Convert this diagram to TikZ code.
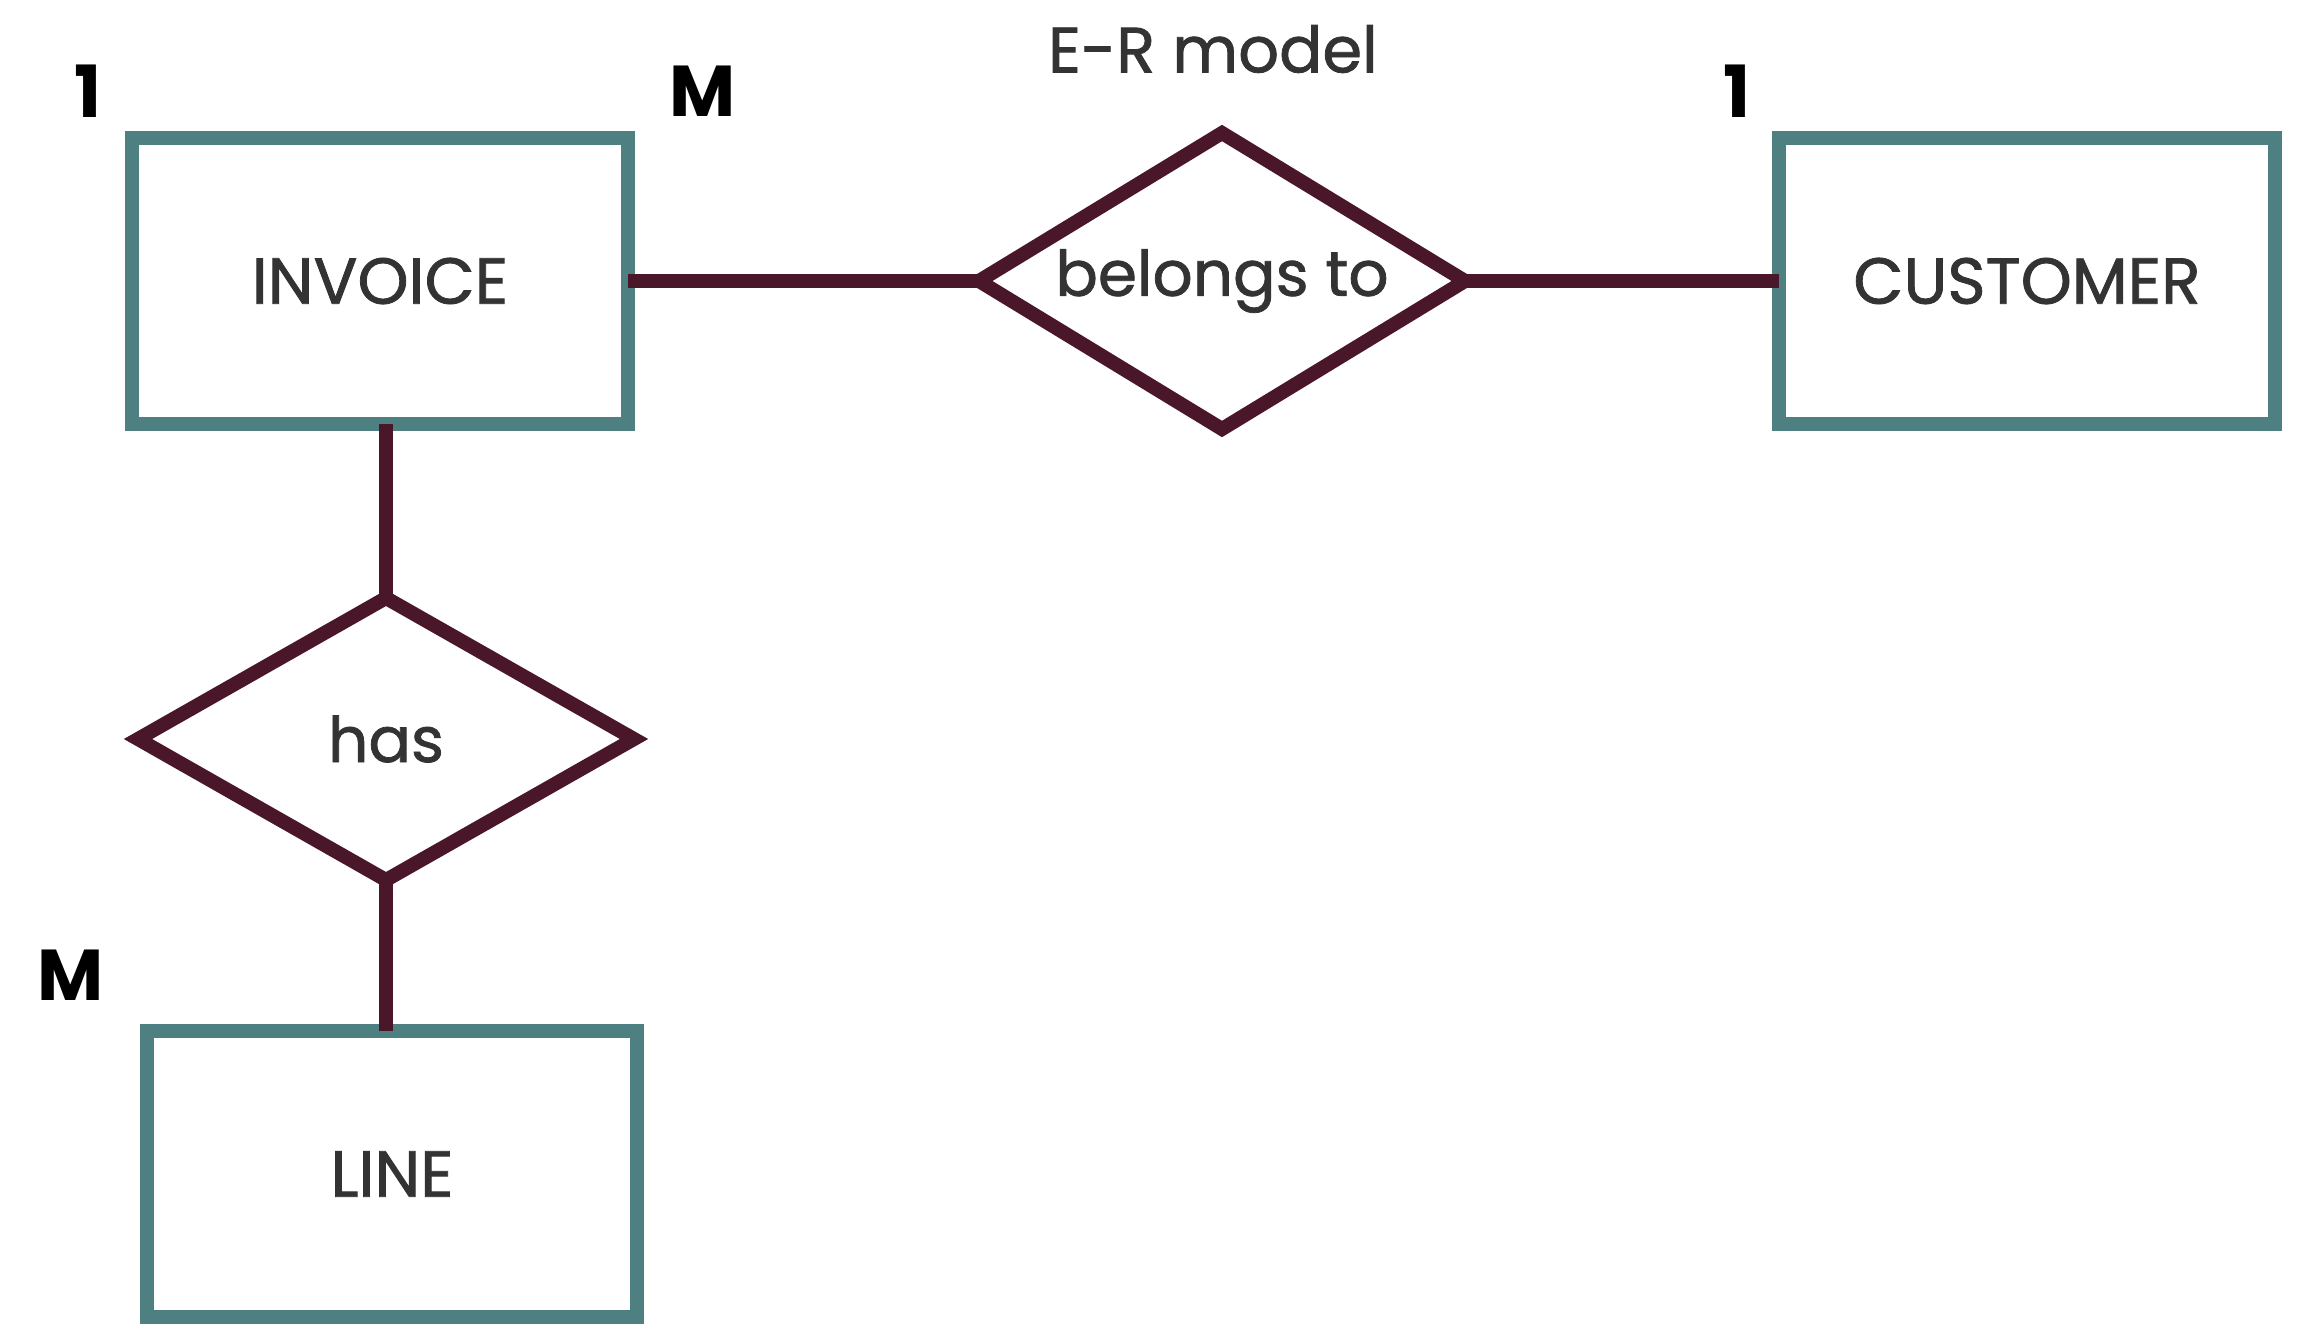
\documentclass[tikz,border=0pt]{standalone}
\usepackage{fontspec}
\setmainfont{Poppins}
\newfontfamily\erfont{Poppins}[FakeBold=1.2]
\usetikzlibrary{shapes.geometric}
\definecolor{boxteal}{HTML}{4F8081}
\definecolor{relmaroon}{HTML}{4A1629}
\definecolor{labelgray}{HTML}{333333}
\begin{document}
\begin{tikzpicture}[x=1pt,y=-1pt,
  entity/.style={draw=boxteal, line width=14pt, fill=white, minimum width=496pt,
    minimum height=286pt, inner sep=0pt, outer sep=0pt,
    font=\erfont\fontsize{65}{70}\selectfont, text=labelgray},
  relation/.style={diamond, draw=relmaroon, line width=14pt, fill=white,
    minimum width=486pt, minimum height=296pt, inner sep=0pt, outer sep=0pt},
  reltext/.style={font=\erfont\fontsize{63}{70}\selectfont, text=labelgray, inner sep=0pt},
  link/.style={draw=relmaroon, line width=14pt},
  card/.style={font=\bfseries\fontsize{72}{76}\selectfont, text=black, inner sep=0pt},
  caption/.style={font=\erfont\fontsize{64}{70}\selectfont, text=labelgray, inner sep=0pt}]
  \useasboundingbox (0,0) rectangle (2305,1340);

  % entities
  \node[entity] (invoice) at (380,281) {INVOICE};
  \node[entity] (customer) at (2027,281) {CUSTOMER};
  \node[entity, minimum width=490pt] (line) at (392,1174) {LINE};

  % relationships: the diamond outline and its text
  \node[relation] (belongs) at (1222,281) {};
  \node[reltext] (belongstext) at (belongs) {belongs to};
  \node[relation, minimum width=496pt, minimum height=282pt] (has) at (386,739) {};
  \node[reltext] (hastext) at (has) {has};

  % connectors
  \draw[link] (invoice.east) -- (belongs.west);
  \draw[link] (belongs.east) -- (customer.west);
  \draw[link] (has.north) -- (has.north |- invoice.south);
  \draw[link] (has.south) -- (has.south |- line.north);

  % cardinalities and title
  \node[card] (c1) at (88,91) {1};
  \node[card] (c2) at (703,91) {M};
  \node[card] (c3) at (1737,91) {1};
  \node[card] (c4) at (71,975) {M};
  \node[caption] (title) at (1213,49) {E-R model};
\end{tikzpicture}
\end{document}
